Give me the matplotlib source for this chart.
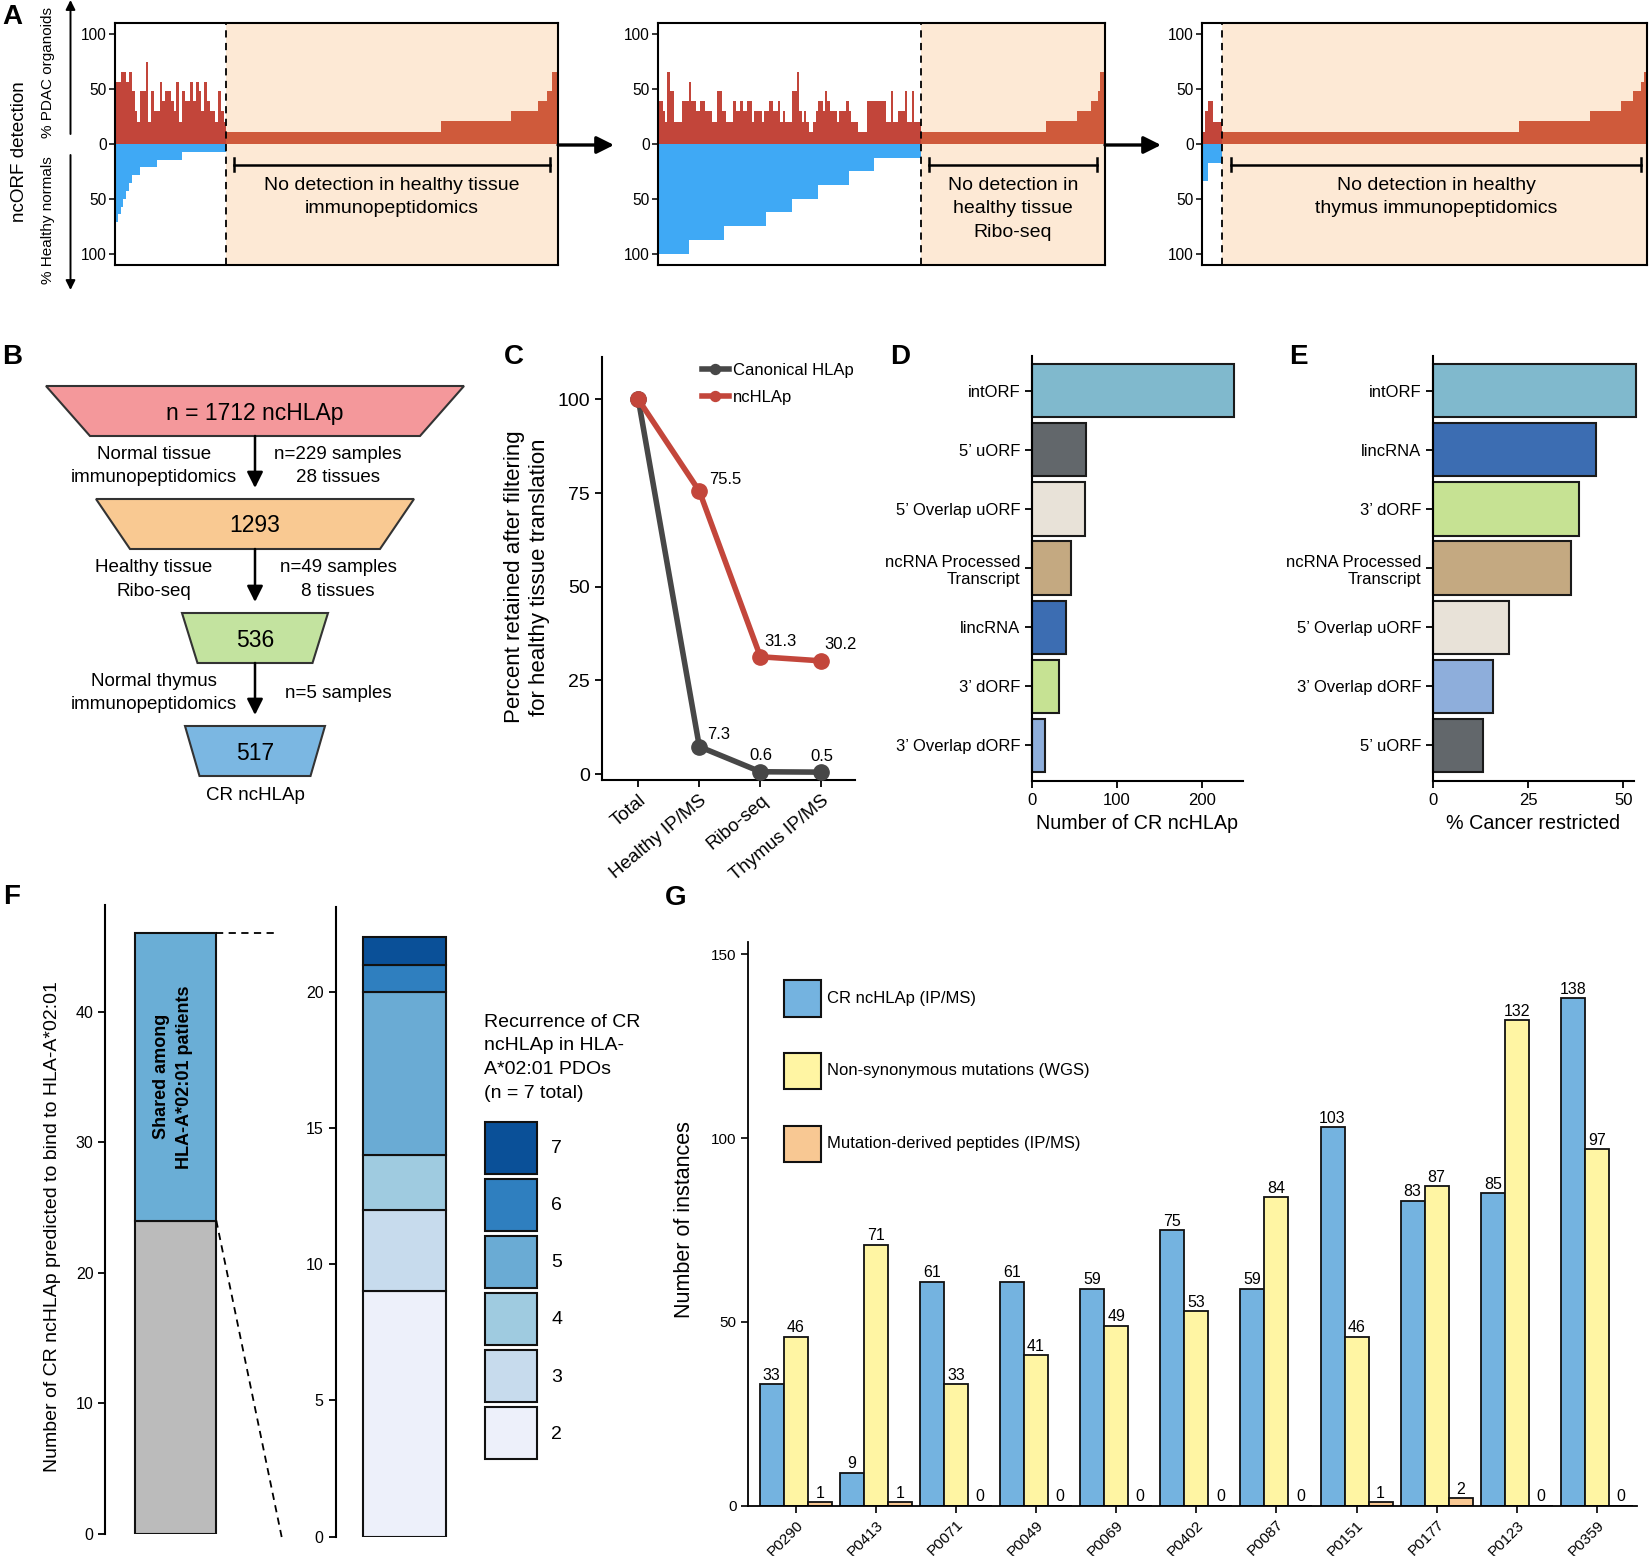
import numpy as np
import matplotlib
matplotlib.use("Agg")
import matplotlib.pyplot as plt
from matplotlib.patches import Polygon, Rectangle

plt.rcParams['font.family'] = ['Liberation Sans', 'DejaVu Sans']
plt.rcParams['axes.linewidth'] = 1.2
plt.rcParams['xtick.major.width'] = 1.1
plt.rcParams['ytick.major.width'] = 1.1

W, H = 1650, 1556

# ---------------- data ----------------
# A: % PDAC organoids per ncORF (left of cut-off), healthy-normal steps
# (level, number of ORFs) and the remaining ORFs (level, number of ORFs)
a1_red = [57, 57, 66, 66, 57, 66, 48, 30, 20, 48,
          48, 75, 20, 48, 30, 30, 57, 39, 48, 48,
          39, 30, 57, 20, 48, 39, 39, 57, 39, 57,
          48, 30, 57, 39, 30, 30, 20, 48, 30, 20]
a1_blue = [(71.4, 1), (64.3, 1), (57.1, 1), (50, 1), (42.9, 1), (35.7, 1),
           (28.6, 3), (21.4, 6), (14.3, 9), (7.1, 16)]
a1_rest = [(11, 77), (21, 25), (30, 10), (39, 3), (48, 2), (66, 2)]
a1_text = "No detection in healthy tissue\nimmunopeptidomics"

a2_red = [39, 39, 30, 20, 66, 48, 48, 20, 20, 20,
          39, 39, 39, 57, 39, 39, 30, 30, 39, 39,
          30, 30, 30, 20, 20, 48, 48, 30, 30, 20,
          20, 20, 39, 30, 30, 39, 30, 30, 39, 39,
          20,
          30, 30, 30, 20, 30, 30, 39, 39, 30, 30,
          39, 20, 30, 20, 20, 20, 48, 48, 66, 30,
          20, 30, 20, 11, 11, 20, 30, 39, 39, 30,
          48, 39, 30, 30, 30, 20, 30, 30, 30, 39,
          30, 20, 20, 20, 11, 11, 11, 11, 39, 39,
          39, 39,
          39, 39, 39, 39, 20, 20, 48, 20, 20, 30,
          30, 30, 48, 20, 20, 48, 20, 20, 20]
a2_blue = [(100, 13), (87.5, 15), (75, 18), (62.5, 11), (50, 11),
           (37.5, 13), (25, 11), (12.5, 20)]
a2_rest = [(11, 53), (21, 13), (30, 6), (39, 3), (48, 1), (66, 2)]
a2_text = "No detection in\nhealthy tissue\nRibo-seq"

a3_red = [11, 30, 39, 39, 20, 20, 20]
a3_blue = [(34, 2), (17, 5)]
a3_rest = [(11, 104), (21, 25), (30, 11), (39, 4), (48, 3), (57, 1), (66, 1)]
a3_text = "No detection in healthy\nthymus immunopeptidomics"

# B: filtering funnel
b_labels = ['n = 1712 ncHLAp', '1293', '536', '517']
b_left_txt = ['Normal tissue\nimmunopeptidomics', 'Healthy tissue\nRibo-seq',
              'Normal thymus\nimmunopeptidomics']
b_right_txt = ['n=229 samples\n28 tissues', 'n=49 samples\n8 tissues', 'n=5 samples']

# C
c_steps = ['Total', 'Healthy IP/MS', 'Ribo-seq', 'Thymus IP/MS']
c_canonical = [100, 7.3, 0.6, 0.5]
c_nc = [100, 75.5, 31.3, 30.2]

# D / E
d_types = ['intORF', '5’ uORF', '5’ Overlap uORF', 'ncRNA Processed\nTranscript',
           'lincRNA', '3’ dORF', '3’ Overlap dORF']
d_counts = [237, 63, 62, 46, 40, 32, 15]
e_types = ['intORF', 'lincRNA', '3’ dORF', 'ncRNA Processed\nTranscript',
           '5’ Overlap uORF', '3’ Overlap dORF', '5’ uORF']
e_pct = [53.2, 42.9, 38.3, 36.3, 19.9, 15.8, 13.2]
orf_colors = {'intORF': '#80b9cd', '5’ uORF': '#62676b', '5’ Overlap uORF': '#e8e2d8',
              'ncRNA Processed\nTranscript': '#c4a981', 'lincRNA': '#3c6db2',
              '3’ dORF': '#c6e293', '3’ Overlap dORF': '#8eaedb'}

# F
f_not_shared = 24
f_shared = 22
f_rec_levels = [2, 3, 4, 5, 6, 7]
f_rec_counts = [9, 3, 2, 6, 1, 1]
f_rec_colors = ['#edf0fa', '#c7dbed', '#9fcbe0', '#6aabd4', '#2f7fbf', '#0a5098']

# G
g_patients = ['P0290', 'P0413', 'P0071', 'P0049', 'P0069', 'P0402',
              'P0087', 'P0151', 'P0177', 'P0123', 'P0359']
g_cr = [33, 9, 61, 61, 59, 75, 59, 103, 83, 85, 138]
g_mut = [46, 71, 33, 41, 49, 53, 84, 46, 87, 132, 97]
g_pep = [1, 1, 0, 0, 0, 0, 0, 1, 2, 0, 0]
g_series = ['CR ncHLAp (IP/MS)', 'Non-synonymous mutations (WGS)',
            'Mutation-derived peptides (IP/MS)']
g_colors = ['#74b3e0', '#fff5a3', '#f8c893']

RED_A, RED_A2, BLUE_A, SHADE = '#c2453a', '#cf5a3b', '#3fa9f5', '#fde9d5'
LS = 1.5  # line spacing of multi-line labels


fig = plt.figure(figsize=(16.5, 15.56), dpi=100)


def add_ax(x0, y0, x1, y1):
    return fig.add_axes([x0 / W, 1 - y1 / H, (x1 - x0) / W, (y1 - y0) / H])


# overlay in pixel coordinates for diagram parts and free texts
ov = fig.add_axes([0, 0, 1, 1], zorder=5)
ov.set_xlim(0, W)
ov.set_ylim(H, 0)
ov.axis('off')
ov.patch.set_alpha(0)

for lab, x, y in [('A', 12, 17), ('B', 12, 357), ('C', 514, 357), ('D', 900, 357),
                  ('E', 1298, 357), ('F', 12, 897), ('G', 676, 898)]:
    ov.text(x, y, lab, fontsize=20, fontweight='bold', ha='center', va='center')

# ---------------- A ----------------
panels_a = [
    (a1_red, a1_blue, a1_rest, a1_text, (115, 23, 558, 265), (0.268, 0.981)),
    (a2_red, a2_blue, a2_rest, a2_text, (658, 23, 1105, 265), (0.606, 0.981)),
    (a3_red, a3_blue, a3_rest, a3_text, (1202, 23, 1647, 265), (0.065, 0.987)),
]
for red, blue, rest, txt, box, (b0, b1) in panels_a:
    ax = add_ax(*box)
    n_left = len(red)
    blue_h = np.repeat([s[0] for s in blue], [s[1] for s in blue])
    rest_h = np.repeat([s[0] for s in rest], [s[1] for s in rest])
    n_all = n_left + len(rest_h)
    ax.axvspan(n_left, n_all, color=SHADE, lw=0, zorder=0)
    ax.stairs(red, np.arange(n_left + 1), baseline=0, fill=True, color=RED_A, zorder=2)
    ax.stairs(-blue_h, np.arange(len(blue_h) + 1), baseline=0, fill=True,
              color=BLUE_A, zorder=2)
    ax.stairs(rest_h, n_left + np.arange(len(rest_h) + 1), baseline=0, fill=True,
              color=RED_A2, zorder=2)
    ax.axvline(n_left, color='k', lw=1.3, ls=(0, (4, 3)), zorder=3)
    ax.set_xlim(0, n_all)
    ax.set_ylim(-110.5, 110.5)
    ax.set_yticks([100, 50, 0, -50, -100])
    ax.set_yticklabels(['100', '50', '0', '50', '100'])
    ax.set_xticks([])
    ax.tick_params(axis='y', labelsize=11.2, length=4, pad=2)
    for s in ax.spines.values():
        s.set_linewidth(1.5)
    tr = ax.get_yaxis_transform()
    ax.plot([b0, b1], [-19, -19], color='k', lw=1.8, transform=tr)
    for b in (b0, b1):
        ax.plot([b, b], [-25, -13], color='k', lw=1.8, transform=tr)
    ax.text((b0 + b1) / 2, -30, txt, transform=tr, ha='center', va='top', fontsize=14,
            linespacing=LS)

ov.text(20, 152, 'ncORF detection', rotation=90, ha='center', va='center', fontsize=13.6)
ov.text(48, 72, '% PDAC organoids', rotation=90, ha='center', va='center', fontsize=11)
ov.text(48, 220, '% Healthy normals', rotation=90, ha='center', va='center', fontsize=11)
ov.annotate('', xy=(70.5, 0), xytext=(70.5, 134),
            arrowprops=dict(arrowstyle='-|>', color='k', lw=1.4, mutation_scale=14,
                            shrinkA=0, shrinkB=0))
ov.annotate('', xy=(70.5, 290), xytext=(70.5, 155),
            arrowprops=dict(arrowstyle='-|>', color='k', lw=1.4, mutation_scale=14,
                            shrinkA=0, shrinkB=0))
for x0, x1 in [(558, 614), (1105, 1161)]:
    ov.annotate('', xy=(x1, 145), xytext=(x0, 145),
                arrowprops=dict(arrowstyle='-|>', color='k', lw=2.4, mutation_scale=26,
                                shrinkA=0, shrinkB=0))

# ---------------- B ----------------
b_colors = ['#f4989b', '#f9c992', '#c3e39f', '#7bb7e2']
b_top = [386, 499, 613, 726]
b_half_top = [209, 159, 73, 70]
b_half_bot = [165, 125, 57.5, 55.5]
bx, bh = 255, 50
for i, lab in enumerate(b_labels):
    y0 = b_top[i]
    poly = Polygon([(bx - b_half_top[i], y0), (bx + b_half_top[i], y0),
                    (bx + b_half_bot[i], y0 + bh), (bx - b_half_bot[i], y0 + bh)],
                   closed=True, fc=b_colors[i], ec='#333333', lw=1.5)
    ov.add_patch(poly)
    ov.text(bx, y0 + bh / 2 + 2, lab, ha='center', va='center', fontsize=16.5)
    if i < 3:
        ya, yb = y0 + bh, b_top[i + 1] - 11
        ov.annotate('', xy=(bx, yb), xytext=(bx, ya),
                    arrowprops=dict(arrowstyle='-|>', color='k', lw=1.8, mutation_scale=24,
                                    shrinkA=0, shrinkB=0))
        ym = (ya + yb) / 2 + 4
        ov.text(154, ym, b_left_txt[i], ha='center', va='center', fontsize=13.5,
                linespacing=LS)
        ov.text(338, ym, b_right_txt[i], ha='center', va='center', fontsize=13.5,
                linespacing=LS)
ov.text(bx, 795, 'CR ncHLAp', ha='center', va='center', fontsize=13.5)

# ---------------- C ----------------
axc = add_ax(601.7, 356.7, 855, 780)
xc = np.arange(len(c_steps))
axc.plot(xc, c_canonical, '-o', color='#474747', lw=4, ms=11, label='Canonical HLAp',
         zorder=3, clip_on=False)
axc.plot(xc, c_nc, '-o', color='#c3463b', lw=4, ms=11, label='ncHLAp', zorder=4,
         clip_on=False)
off_can = [None, (13.7, 8.4), (0, 11.4), (0, 11.4)]
off_nc = [None, (18.5, 8.6), (14.4, 10.8), (13.7, 12.1)]
for i in range(1, len(c_steps)):
    axc.annotate(f'{c_canonical[i]}', (xc[i], c_canonical[i]), xytext=off_can[i],
                 textcoords='offset points', ha='center', va='center', fontsize=12)
    axc.annotate(f'{c_nc[i]}', (xc[i], c_nc[i]), xytext=off_nc[i],
                 textcoords='offset points', ha='center', va='center', fontsize=12)
axc.set_xlim(-0.6, 3.55)
axc.set_ylim(-1.6, 111.4)
axc.set_yticks([0, 25, 50, 75, 100])
axc.set_xticks(xc)
axc.set_xticklabels(c_steps, rotation=40, ha='right', rotation_mode='anchor')
axc.tick_params(axis='y', labelsize=14, length=5, width=1.3)
axc.tick_params(axis='x', labelsize=13.5, length=5, width=1.3)
for s in ['top', 'right']:
    axc.spines[s].set_visible(False)
for s in ['left', 'bottom']:
    axc.spines[s].set_linewidth(1.5)
axc.legend(loc='upper left', bbox_to_anchor=(0.396, 0.985), frameon=False, fontsize=12,
           handlelength=1.6, handletextpad=0.25, labelspacing=0.7, borderaxespad=0,
           borderpad=0, markerscale=0.65)
ov.text(527, 577, 'Percent retained after filtering\nfor healthy tissue translation',
        rotation=90, ha='center', va='center', fontsize=16, linespacing=1.3)

# ---------------- D / E ----------------
for box, types, vals, xlim, ticks, xlabel in [
        ((1031.9, 356, 1243, 780.7), d_types, d_counts, 248, [0, 100, 200], 'Number of CR ncHLAp'),
        ((1433, 356, 1634, 780.7), e_types, e_pct, 52.8, [0, 25, 50], '% Cancer restricted')]:
    ax = add_ax(*box)
    yy = np.arange(len(types))
    ax.barh(yy, vals, height=0.9, color=[orf_colors[t] for t in types], ec='#1a1a1a',
            lw=1.5, clip_on=False)
    ax.set_yticks(yy)
    ax.set_yticklabels(types)
    ax.set_ylim(6.6, -0.59)
    ax.set_xlim(0, xlim)
    ax.set_xticks(ticks)
    ax.tick_params(labelsize=12, length=5, width=1.3)
    for s in ['top', 'right']:
        ax.spines[s].set_visible(False)
    for s in ['left', 'bottom']:
        ax.spines[s].set_linewidth(1.5)
    ax.set_xlabel(xlabel, fontsize=14.2)
    ax.xaxis.set_label_coords(0.5, -0.078)

# ---------------- F ----------------
axf = add_ax(105.3, 904.5, 285, 1533.9)
axf.bar(0, f_not_shared, width=1, align='edge', color='#bbbbbb', ec='#111111', lw=1.5)
axf.bar(0, f_shared, width=1, bottom=f_not_shared, align='edge', color='#6aaed6',
        ec='#111111', lw=1.5)
axf.text(0.47, f_not_shared + f_shared / 2, 'Shared among\nHLA-A*02:01 patients',
         rotation=90, ha='center', va='center', fontsize=13, fontweight='bold',
         linespacing=1.4)
axf.plot([1, 1.75], [f_not_shared + f_shared] * 2, color='k', lw=1.3, ls=(0, (4, 3)),
         clip_on=False)
axf.plot([1, 1.805], [f_not_shared, -0.35], color='k', lw=1.3, ls=(0, (4, 3)),
         clip_on=False)
axf.set_xlim(-0.36, 1.842)
axf.set_ylim(0, 48.2)
axf.set_yticks([0, 10, 20, 30, 40])
axf.set_xticks([])
for s in ['top', 'right', 'bottom']:
    axf.spines[s].set_visible(False)
axf.spines['left'].set_linewidth(1.5)
axf.tick_params(labelsize=11.5, length=5, width=1.3)
ov.text(53, 1227, 'Number of CR ncHLAp predicted to bind to HLA-A*02:01', rotation=90,
        ha='center', va='center', fontsize=14)

axf2 = add_ax(335.5, 907.3, 460, 1536.6)
bottom = 0
for lvl, cnt, col in zip(f_rec_levels, f_rec_counts, f_rec_colors):
    axf2.bar(0, cnt, width=1, bottom=bottom, align='edge', color=col, ec='#111111', lw=1.5)
    bottom += cnt
axf2.set_xlim(-0.336, 1.17)
axf2.set_ylim(0, 23.1)
axf2.set_yticks([0, 5, 10, 15, 20])
axf2.set_xticks([])
for s in ['top', 'right', 'bottom']:
    axf2.spines[s].set_visible(False)
axf2.spines['left'].set_linewidth(1.5)
axf2.tick_params(labelsize=11.5, length=5, width=1.3)

ov.text(484, 1014, 'Recurrence of CR\nncHLAp in HLA-\nA*02:01 PDOs\n(n = 7 total)',
        ha='left', va='top', fontsize=14, linespacing=LS)
for k, (lvl, col) in enumerate(zip(f_rec_levels[::-1], f_rec_colors[::-1])):
    y0 = 1121.6 + k * 57.1
    ov.add_patch(Rectangle((484.5, y0), 52.2, 52.3, fc=col, ec='#111111', lw=1.5))
    ov.text(551, y0 + 27, str(lvl), ha='left', va='center', fontsize=14)

# ---------------- G ----------------
axg = add_ax(748.4, 941.8, 1637, 1505.8)
xg = np.arange(len(g_patients))
bw = 0.3
for j, (vals, col) in enumerate(zip([g_cr, g_mut, g_pep], g_colors)):
    bars = axg.bar(xg + (j - 1) * bw, vals, width=bw, color=col, ec='#111111', lw=1.3)
    axg.bar_label(bars, padding=1, fontsize=11.5)
axg.set_xlim(-0.59, 10.5)
axg.set_ylim(0, 153.4)
axg.set_yticks([0, 50, 100, 150])
axg.set_xticks(xg)
axg.set_xticklabels(g_patients, rotation=45, ha='right', rotation_mode='anchor')
axg.tick_params(labelsize=11, length=5, width=1.2)
for s in ['top', 'right']:
    axg.spines[s].set_visible(False)
for s in ['left', 'bottom']:
    axg.spines[s].set_linewidth(1.3)
ov.text(684, 1220, 'Number of instances', rotation=90, ha='center', va='center',
        fontsize=15.5)
for k, (lab, col) in enumerate(zip(g_series, g_colors)):
    y0 = 980.3 + k * 72.6
    ov.add_patch(Rectangle((784.2, y0), 36.4, 36.3, fc=col, ec='#111111', lw=1.5))
    ov.text(827, y0 + 18, lab, ha='left', va='center', fontsize=12)

fig.savefig('out.png', dpi=100)
